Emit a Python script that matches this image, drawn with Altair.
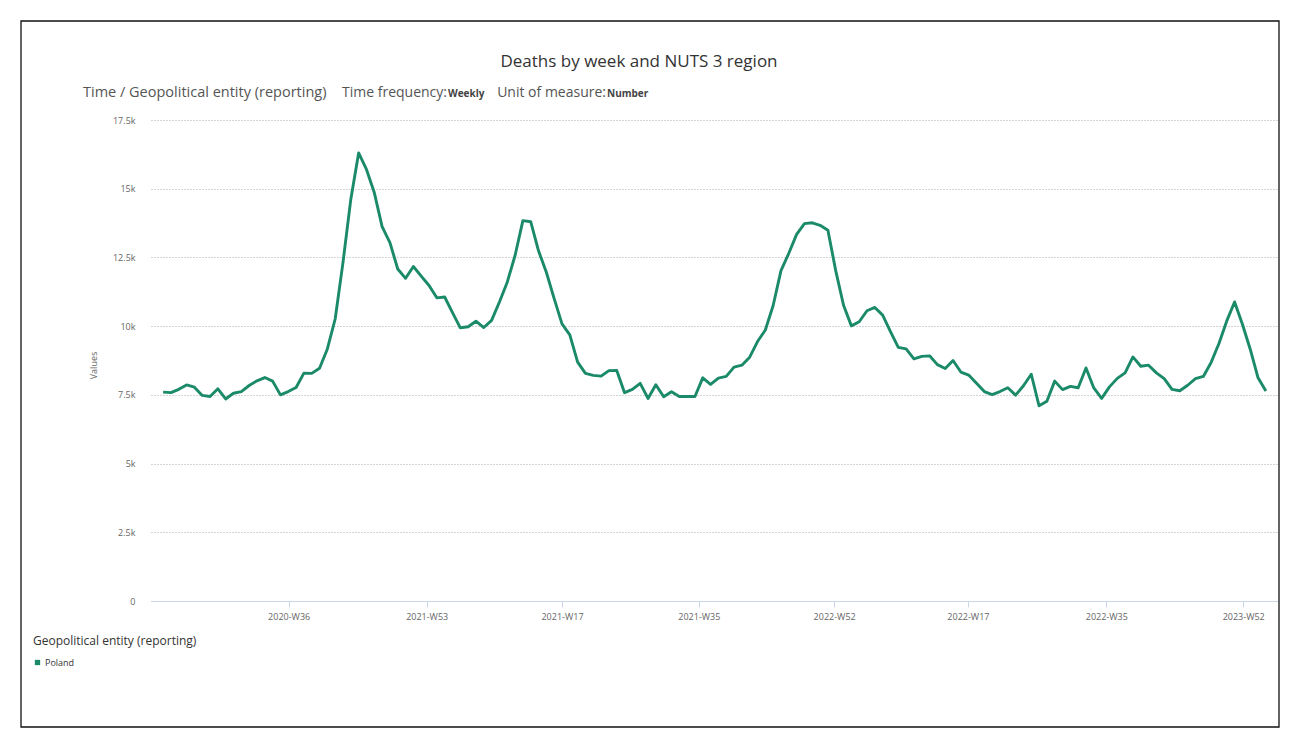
import altair as alt
import pandas as pd

# Weekly deaths, Poland, starting 2020-W20
deaths = [
    7600, 7580, 7700, 7860, 7780, 7480, 7440, 7720, 7350, 7560,
    7620, 7840, 8010, 8130, 8000, 7500, 7620, 7770, 8290, 8280,
    8470, 9170, 10260, 12320, 14620, 16300, 15700, 14860, 13620, 13040,
    12080, 11740, 12170, 11820, 11480, 11030, 11060, 10490, 9940, 9980,
    10180, 9950, 10210, 10880, 11600, 12570, 13840, 13800, 12740, 11960,
    11000, 10080, 9680, 8690, 8280, 8210, 8180, 8380, 8390, 7580,
    7700, 7920, 7370, 7870, 7430, 7610, 7440, 7440, 7440, 8120,
    7880, 8110, 8170, 8510, 8580, 8870, 9440, 9860, 10750, 12020,
    12650, 13340, 13730, 13760, 13670, 13490, 12020, 10760, 10010, 10160,
    10560, 10680, 10400, 9800, 9230, 9170, 8810, 8900, 8920, 8600,
    8460, 8750, 8330, 8220, 7920, 7620, 7510, 7620, 7760, 7490,
    7830, 8250, 7100, 7270, 8000, 7690, 7810, 7760, 8480, 7750,
    7370, 7790, 8100, 8300, 8880, 8540, 8580, 8300, 8090, 7700,
    7650, 7850, 8090, 8170, 8680, 9370, 10190, 10880, 10070, 9160,
    8120, 7640,
]
geo = "Poland"

# Axis ticks on the week index and the labels printed under them
tick_pos = [16.05, 33.7, 51.0, 68.5, 85.8, 102.9, 120.6, 138.1]
tick_labels = ["2020-W36", "2021-W53", "2021-W17", "2021-W35",
               "2022-W52", "2022-W17", "2022-W35", "2023-W52"]
y_ticks = [0, 2500, 5000, 7500, 10000, 12500, 15000, 17500]

GREEN = "#1a8a69"
FONT = "Open Sans"

df = pd.DataFrame({"idx": range(len(deaths)), "value": deaths, "geo": geo})

label_expr = f"{tick_labels}[indexof({tick_pos}, datum.value)]"

line = alt.Chart(df).mark_line(strokeWidth=2.9, strokeJoin="round").encode(
    x=alt.X(
        "idx:Q",
        scale=alt.Scale(domain=[-1.55, 142.55], nice=False, zero=False),
        axis=alt.Axis(
            values=tick_pos, labelExpr=label_expr, title=None, grid=False,
            domainColor="#ccd6eb", tickColor="#ccd6eb", tickSize=6,
            labelColor="#666666", labelFontSize=9, labelFont=FONT,
            labelPadding=5, labelFlush=False,
        ),
    ),
    y=alt.Y(
        "value:Q",
        scale=alt.Scale(domain=[0, 17500], nice=False),
        axis=alt.Axis(
            values=y_ticks,
            labelExpr="datum.value == 0 ? '0' : format(datum.value / 1000, '~g') + 'k'",
            title="Values", titleFontSize=9, titleFontWeight="normal",
            titleColor="#666666", titleFont=FONT, titleX=-58, titleY=245,
            titleAngle=-90, titleAlign="center", titleBaseline="middle",
            domain=False, ticks=False, labelPadding=16,
            labelColor="#666666", labelFontSize=9, labelFont=FONT,
            grid=True, gridColor="#a8a8a8", gridDash=[1, 2], gridWidth=1,
        ),
    ),
    color=alt.Color(
        "geo:N",
        scale=alt.Scale(range=[GREEN]),
        legend=alt.Legend(
            title="Geopolitical entity (reporting)", orient="none",
            legendX=-118, legendY=516, padding=0,
            titleFont=FONT, titleFontSize=12, titleFontWeight="normal",
            titleColor="#333333", titlePadding=10,
            labelFont=FONT, labelFontSize=9, labelColor="#333333",
            symbolType="square", symbolSize=28, symbolStrokeWidth=0,
            symbolFillColor=GREEN, labelOffset=3,
        ),
    ),
)


def text_piece(s, x, y, size, weight="normal", color="#555555", align="left"):
    return alt.Chart(pd.DataFrame({"t": [s]})).mark_text(
        align=align, baseline="middle", font=FONT, fontSize=size,
        fontWeight=weight, color=color,
    ).encode(text="t:N", x=alt.value(x), y=alt.value(y))


title = text_piece("Deaths by week and NUTS 3 region", 639 - 151, 62 - 120, 17,
                   color="#333333", align="center")

# Header line: plain captions with their values in small bold type right after
header = [
    text_piece("Time / Geopolitical entity (reporting)", 83 - 151, 93 - 120, 14.5),
    text_piece("Time frequency:", 447 - 151, 93 - 120, 14, align="right"),
    text_piece("Weekly", 448 - 151, 94 - 120, 10, "bold", "#444444"),
    text_piece("Unit of measure:", 606 - 151, 93 - 120, 14, align="right"),
    text_piece("Number", 607 - 151, 94 - 120, 10, "bold", "#444444"),
]

border = alt.Chart(pd.DataFrame({"b": [0]})).mark_rect(
    fill=None, stroke="#111111", strokeWidth=1.3,
).encode(
    x=alt.value(21 - 151), x2=alt.value(1279 - 151),
    y=alt.value(21 - 120), y2=alt.value(727 - 120),
)

chart = alt.layer(line, title, *header, border).properties(
    width=1127, height=481,
    autosize=alt.AutoSizeParams(type="none"),
    padding={"left": 151, "top": 120, "right": 22, "bottom": 148},
    background="white",
).configure_view(stroke=None)

chart.save("out.html", embed_options={"renderer": "svg", "actions": False})
